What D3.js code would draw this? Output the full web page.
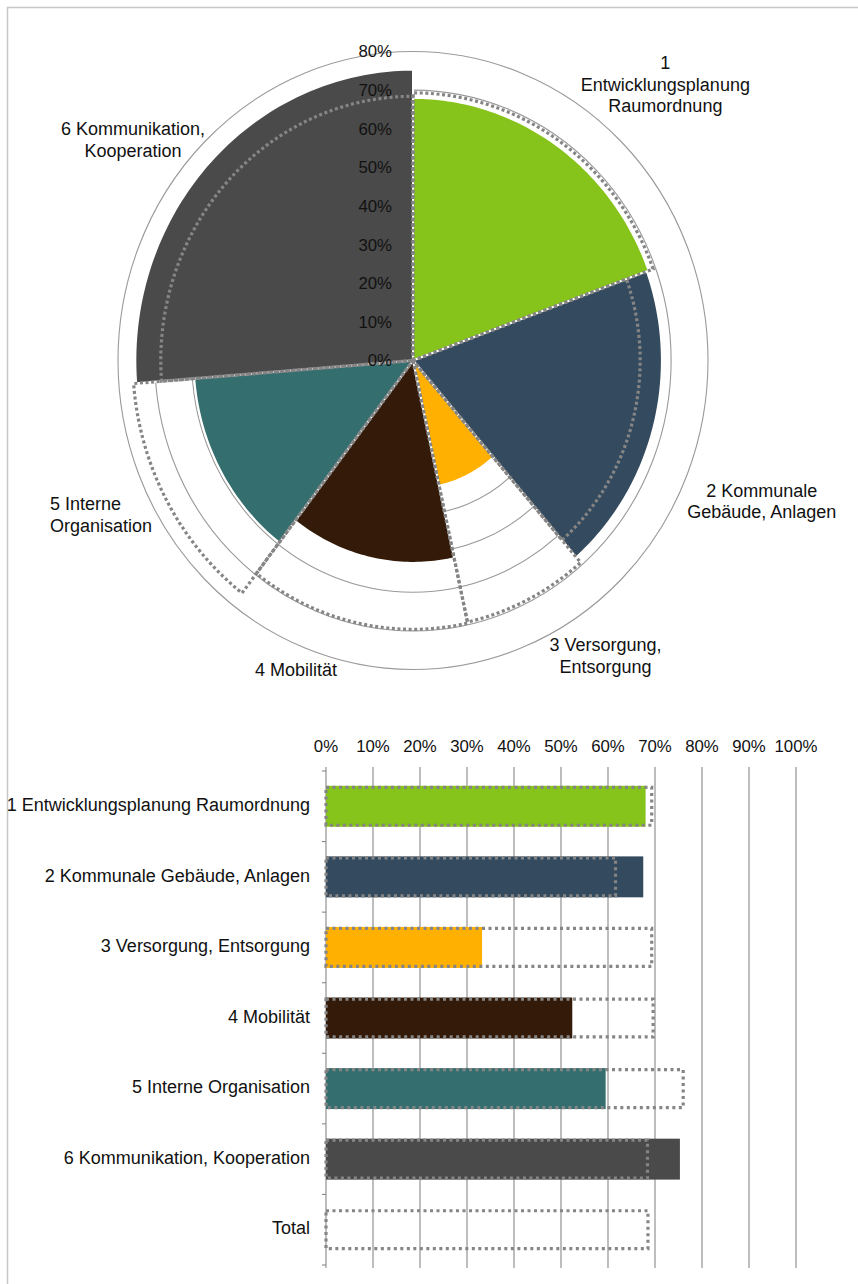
<!DOCTYPE html>
<html><head><meta charset="utf-8">
<script src="https://cdn.jsdelivr.net/npm/d3@7"></script>
<style>
html,body{margin:0;padding:0;background:#fff;}
svg{display:block;font-family:"Liberation Sans",Arial,sans-serif;}
</style></head><body>
<svg id="chart" width="858" height="1284"></svg>
<script>
// ---------- DATA ----------
const categories = ["1 Entwicklungsplanung Raumordnung", "2 Kommunale Gebäude, Anlagen", "3 Versorgung, Entsorgung", "4 Mobilität", "5 Interne Organisation", "6 Kommunikation, Kooperation"];
const polarLabels = [["1", "Entwicklungsplanung", "Raumordnung"], ["2 Kommunale", "Gebäude, Anlagen"], ["3 Versorgung,", "Entsorgung"], ["4 Mobilität"], ["5 Interne", "Organisation"], ["6 Kommunikation,", "Kooperation"]];
const weights = [70, 69, 28.7, 49.9, 47.9, 94.5];          // angular share of each category
const achieved = [68, 67.5, 33.2, 52.4, 59.5, 75.3];       // % achieved
const targets = [69.3, 61.6, 69.3, 69.6, 76, 68.4];        // % target (dotted)
const totalLabel = "Total";
const totalAchieved = null;
const totalTarget = 68.5;
const radialTicks = [0, 10, 20, 30, 40, 50, 60, 70, 80];
const barTicks = [0, 10, 20, 30, 40, 50, 60, 70, 80, 90, 100];
const colors = ["#86C31B", "#344A5E", "#FFB000", "#341A08", "#346E6E", "#4A4A4A"];

// ---------- LAYOUT ----------
const svg = d3.select("#chart");
const textColor = "#111";
const gridColor = "#9a9a9a";
const dotColor = "#858585";

// frame
svg.append("rect").attr("x", 7.5).attr("y", 7.5).attr("width", 900).attr("height", 1400)
  .attr("fill", "none").attr("stroke", "#c8c8c8").attr("stroke-width", 1.5);

// ---------- POLAR CHART ----------
const cx = 413, cy = 360.5;
const rx = d3.scaleLinear().domain([0, 80]).range([0, 295]);
const ry = d3.scaleLinear().domain([0, 80]).range([0, 309]);
const arcs = d3.pie().sort(null).value(d => d)(weights);

function pt(a, v) { return [cx + rx(v) * Math.sin(a), cy - ry(v) * Math.cos(a)]; }
function wedgePath(a0, a1, v) {
  const pts = [[cx, cy]];
  const n = Math.max(2, Math.ceil((a1 - a0) / (Math.PI / 180)));
  for (let i = 0; i <= n; i++) pts.push(pt(a0 + (a1 - a0) * i / n, v));
  return d3.line()(pts) + "Z";
}

const polar = svg.append("g");
// grid ellipses
polar.selectAll("ellipse.grid").data(radialTicks.filter(t => t > 0)).join("ellipse")
  .attr("cx", cx).attr("cy", cy).attr("rx", d => rx(d)).attr("ry", d => ry(d))
  .attr("fill", "none").attr("stroke", gridColor).attr("stroke-width", 1.1);

// wedges
polar.selectAll("path.wedge").data(arcs).join("path")
  .attr("d", (d, i) => wedgePath(d.startAngle, d.endAngle, achieved[i]))
  .attr("fill", (d, i) => colors[i])
  .attr("stroke", "#fff").attr("stroke-width", 2).attr("stroke-linejoin", "round");

// targets dotted
polar.selectAll("path.target").data(arcs).join("path")
  .attr("d", (d, i) => wedgePath(d.startAngle, d.endAngle, targets[i]))
  .attr("fill", "none").attr("stroke", dotColor).attr("stroke-width", 3.2)
  .attr("stroke-dasharray", "3 2.6");

// radial tick labels
polar.selectAll("text.rt").data(radialTicks).join("text")
  .attr("x", 392).attr("y", d => cy - ry(d) + 1.5)
  .attr("text-anchor", "end").attr("dominant-baseline", "middle")
  .attr("font-size", 16.8).attr("fill", textColor)
  .text(d => d + "%");

// category labels (anchor angle in degrees, radius in % units, text anchor)
const labelLayout = [
  {ang: 43.9, r: 98.7, anchor: "middle"},
  {ang: 111.3, r: 101.5, anchor: "middle"},
  {ang: 145.8, r: 92.9, anchor: "middle"},
  {ang: 201.5, r: 86.6, anchor: "middle"},
  {ang: 247.7, r: 106.4, anchor: "start"},
  {ang: 306.8, r: 94.8, anchor: "middle"}
];
const lineH = 21.5;
polarLabels.forEach((lines, i) => {
  const L = labelLayout[i];
  const [px, py] = pt(L.ang * Math.PI / 180, L.r);
  const t = polar.append("text").attr("font-size", 18).attr("fill", textColor)
    .attr("text-anchor", L.anchor);
  lines.forEach((ln, j) => {
    t.append("tspan").attr("x", px)
      .attr("y", py + (j - (lines.length - 1) / 2) * lineH)
      .attr("dominant-baseline", "middle").text(ln);
  });
});

// ---------- BAR CHART ----------
const barCats = [...categories, totalLabel];
const barAch = [...achieved, totalAchieved];
const barTgt = [...targets, totalTarget];
const x = d3.scaleLinear().domain([0, 100]).range([326, 796]);
const y = d3.scaleBand().domain(barCats).range([771, 1265]).paddingInner(0.42).paddingOuter(0.21);
const bars = svg.append("g");

// gridlines
bars.selectAll("line.grid").data(barTicks).join("line")
  .attr("x1", d => x(d)).attr("x2", d => x(d)).attr("y1", 767).attr("y2", 1268)
  .attr("stroke", "#888").attr("stroke-width", 1.1);
// left axis ticks between categories
const step = y.step();
bars.selectAll("line.ct").data(d3.range(barCats.length + 1)).join("line")
  .attr("x1", x(0) - 4).attr("x2", x(0))
  .attr("y1", d => 771 + d * step).attr("y2", d => 771 + d * step)
  .attr("stroke", "#888").attr("stroke-width", 1.1);
// tick labels
bars.selectAll("text.xt").data(barTicks).join("text")
  .attr("x", d => x(d)).attr("y", 748).attr("text-anchor", "middle")
  .attr("dominant-baseline", "middle").attr("font-size", 16.8).attr("fill", textColor)
  .text(d => d + "%");
// category labels
bars.selectAll("text.cl").data(barCats).join("text")
  .attr("x", 310).attr("y", d => y(d) + y.bandwidth() / 2)
  .attr("text-anchor", "end").attr("dominant-baseline", "middle")
  .attr("font-size", 18).attr("fill", textColor).text(d => d);
// achieved bars
bars.selectAll("rect.ach").data(barCats.map((c, i) => ({c, v: barAch[i], i})).filter(d => d.v != null)).join("rect")
  .attr("x", x(0)).attr("y", d => y(d.c)).attr("width", d => x(d.v) - x(0)).attr("height", y.bandwidth())
  .attr("fill", d => colors[d.i]);
// target boxes
bars.selectAll("rect.tgt").data(barCats.map((c, i) => ({c, v: barTgt[i]}))).join("rect")
  .attr("x", x(0)).attr("y", d => y(d.c) + 1.5).attr("width", d => x(d.v) - x(0)).attr("height", y.bandwidth() - 3)
  .attr("fill", "none").attr("stroke", dotColor).attr("stroke-width", 3.2).attr("stroke-dasharray", "3 3.5");
</script>
</body></html>
